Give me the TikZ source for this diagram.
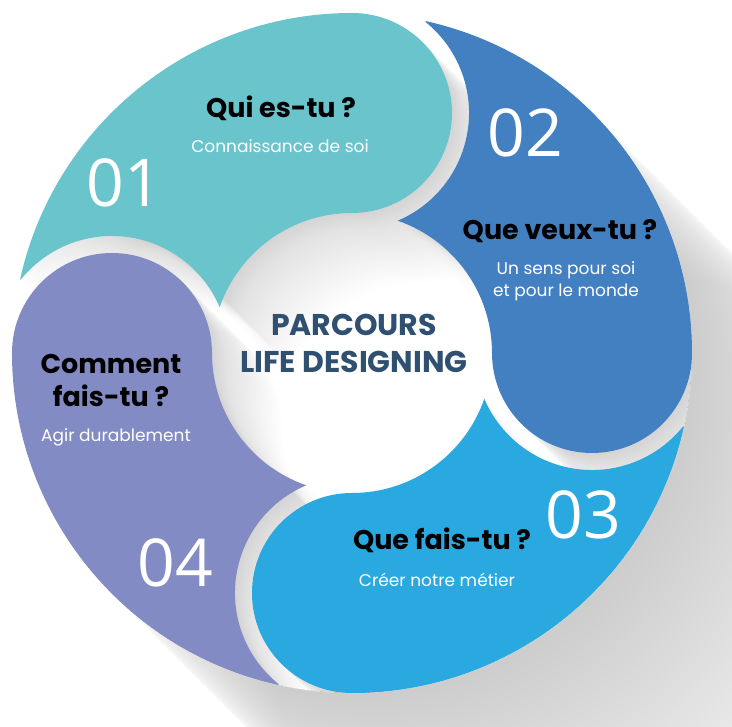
\documentclass[tikz,border=0pt]{standalone}
\usepackage{fontspec}
\setmainfont{Poppins}
\newfontfamily\numfont{Open Sans}

\definecolor{petalteal}{RGB}{106,196,204}
\definecolor{petalblue}{RGB}{66,128,193}
\definecolor{petalcyan}{RGB}{41,169,224}
\definecolor{petalmauve}{RGB}{131,139,196}
\definecolor{hubtext}{RGB}{47,80,112}

% outline of one petal, #1 = direction of its round head
% (ring 140..340, head radius 100, gap radius 117 round the previous head)
\newcommand\petalpath[1]{%
  (#1+77.44:340pt) arc[start angle=#1+77.44, end angle=#1, radius=340pt]
  arc[start angle=#1, end angle=#1-180, radius=100pt]
  arc[start angle=#1, end angle=#1+70.93, radius=140pt]
  arc[start angle=#1+293.0, end angle=#1+411.17, radius=117pt] -- cycle}

\begin{document}
\begin{tikzpicture}[x=1pt, y=1pt,
    question/.style={font=\bfseries\fontsize{27}{33}\selectfont, text=black, align=center},
    hint/.style={font=\fontsize{17}{22}\selectfont, text=white, align=center},
    stepnum/.style={font=\numfont\fontsize{66}{66}\selectfont, text=white},
    hub/.style={font=\bfseries\fontsize{30}{37}\selectfont, text=hubtext, align=center}]

  \useasboundingbox (-352,-374) rectangle (380,353);
  \clip (-352,-374) rectangle (380,353);

  %%% long shadow of the wheel
  \foreach \s in {0,5,...,450} {
    \pgfmathsetmacro\op{0.0045*(1-\s/450)}
    \fill[black, opacity=\op] (\s,-\s) circle[radius=340pt];
  }
  \fill[white] (0,0) circle[radius=340pt];

  %%% shadows of the petals on the hub and in the gaps
  \begin{scope}
    \clip (0,0) circle[radius=340pt];
    \foreach \a in {90,0,-90,180}
      \foreach \s in {2,4,...,100} {
        \pgfmathsetmacro\op{0.007*(1-\s/100)}
        \fill[black, opacity=\op, shift={(\s,-\s)}] \petalpath{\a};
      }
  \end{scope}

  %%% the four petals
  \fill[petalteal]  \petalpath{90};
  \fill[petalblue]  \petalpath{0};
  \fill[petalcyan]  \petalpath{-90};
  \fill[petalmauve] \petalpath{180};

  %%% 01 (top)
  \node[stepnum]  (num1)  at (-228,170) {01};
  \node[question] (ask1)  at (-71,245)  {Qui es-tu ?};
  \node[hint]     (hint1) at (-72,207)  {Connaissance de soi};

  %%% 02 (right)
  \node[stepnum]  (num2)  at (173,220)  {02};
  \node[question] (ask2)  at (208,122)  {Que veux-tu ?};
  \node[hint]     (hint2) at (214,72)   {Un sens pour soi\\et pour le monde};

  %%% 03 (bottom)
  \node[stepnum]  (num3)  at (231,-162) {03};
  \node[question] (ask3)  at (90,-187)  {Que fais-tu ?};
  \node[hint]     (hint3) at (85,-227)  {Créer notre métier};

  %%% 04 (left)
  \node[stepnum]  (num4)  at (-177,-210) {04};
  \node[question] (ask4)  at (-241,-28)  {Comment\\fais-tu ?};
  \node[hint]     (hint4) at (-236,-84)  {Agir durablement};

  %%% hub
  \node[hub] (title) at (2,10) {PARCOURS\\LIFE DESIGNING};
\end{tikzpicture}
\end{document}
